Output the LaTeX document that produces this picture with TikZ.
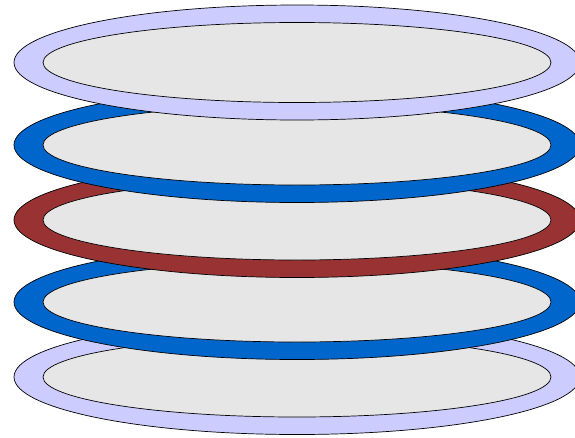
\documentclass[tikz,border=0pt]{standalone}
\usepackage{tikz}
\definecolor{lavender}{HTML}{CCCCFF}
\definecolor{ringblue}{HTML}{0066CC}
\definecolor{ringred}{HTML}{993333}
\definecolor{platter}{HTML}{E6E6E6}
\tikzset{
  ringedge/.style={draw=black, line width=0.7pt},
}
% one ring: coloured outer band, grey inner disc
\newcommand{\stackring}[3]{%
  \filldraw[ringedge, fill=#3] (#1,#2) ellipse [x radius=283, y radius=57.5];
  \filldraw[ringedge, fill=platter] (#1,#2) ellipse [x radius=254, y radius=40];
}
\begin{document}
\begin{tikzpicture}[x=1pt, y=-1pt]
  \useasboundingbox (0,0) rectangle (575,437);
  \clip (0,0) rectangle (575,437);
  % bottom to top, each ring over the one below
  \stackring{297}{377}{lavender}
  \stackring{297}{302}{ringblue}
  \stackring{297}{220}{ringred}
  \stackring{297}{145}{ringblue}
  \stackring{297}{62.5}{lavender}
\end{tikzpicture}
\end{document}
